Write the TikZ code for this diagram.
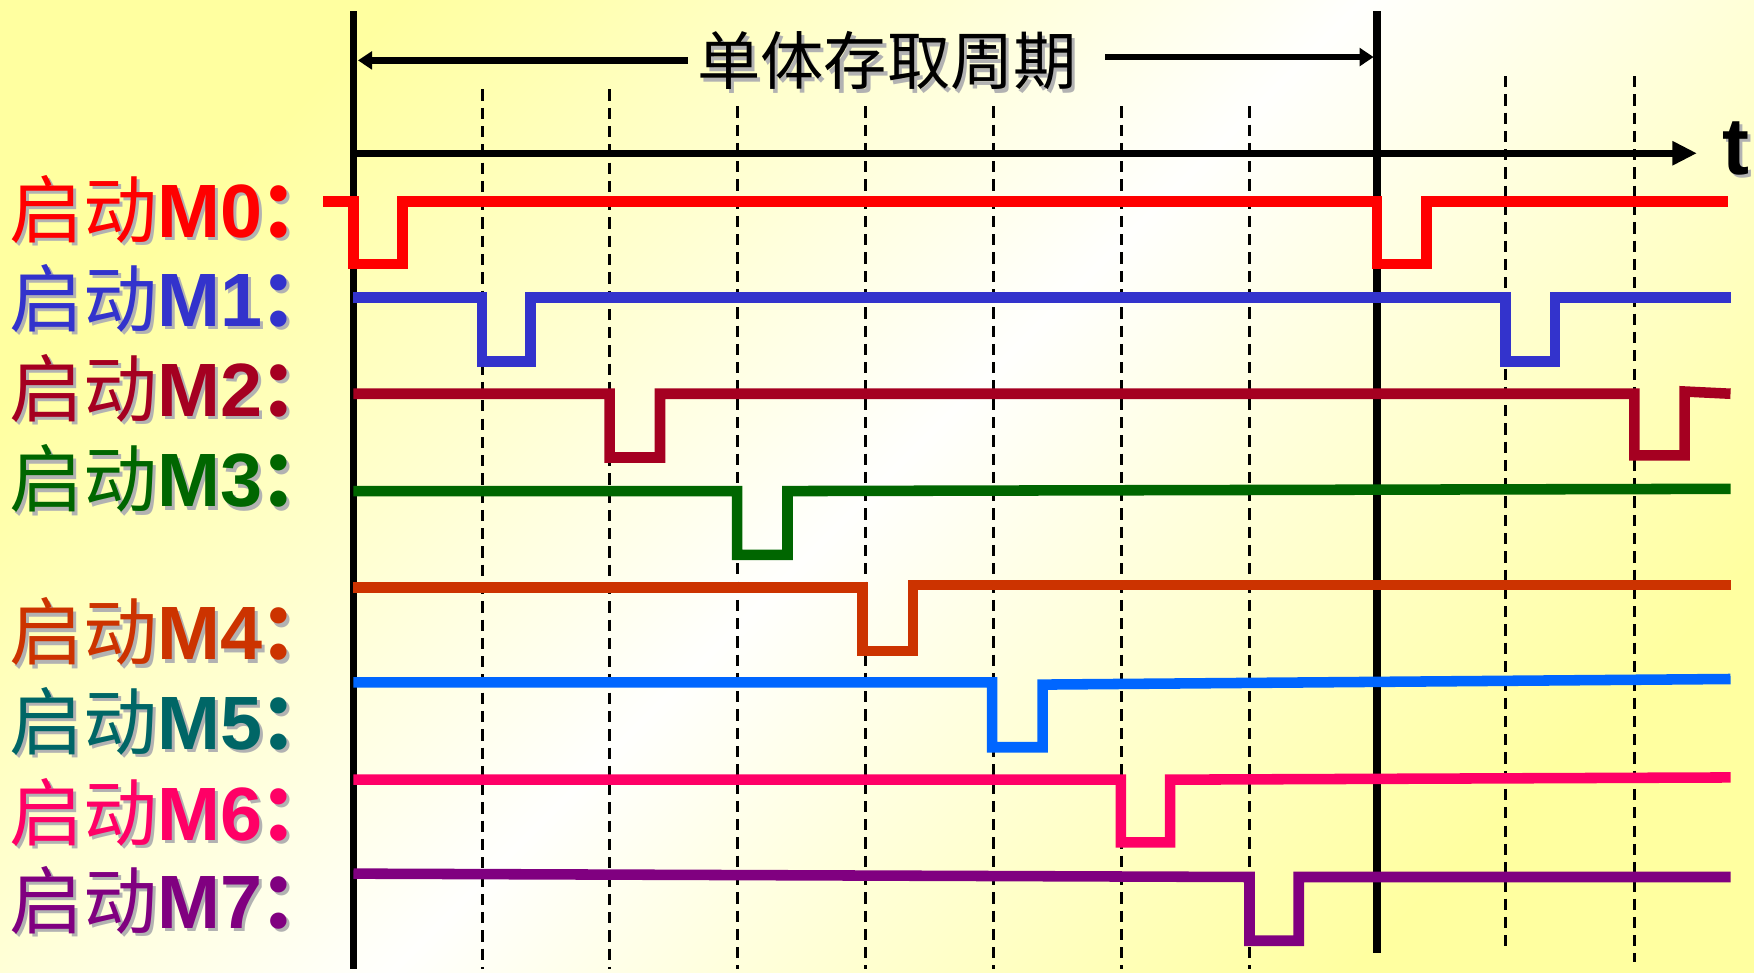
\documentclass[tikz,border=0pt]{standalone}
\usepackage{fontspec}
\setmainfont{Liberation Sans}
\newfontfamily\cjk{Noto Sans CJK SC}
\usetikzlibrary{arrows.meta}
\definecolor{bgyellow}{RGB}{255,255,160}
\definecolor{bgwhite}{RGB}{255,255,253}
\definecolor{shadowgray}{RGB}{178,178,178}
\definecolor{cM0}{RGB}{255,0,0}
\definecolor{cM1}{RGB}{51,51,204}
\definecolor{cM2}{RGB}{165,0,33}
\definecolor{cM3}{RGB}{0,102,0}
\definecolor{cM4}{RGB}{204,51,0}
\definecolor{cM5}{RGB}{0,102,255}
\definecolor{cM5t}{RGB}{0,102,102}
\definecolor{cM6}{RGB}{255,0,102}
\definecolor{cM7}{RGB}{128,0,128}
\newcommand\labtext[1]{{\fontsize{21}{21}\selectfont\cjk 启动}{\fontsize{21.5}{21.5}\selectfont\bfseries #1}\kern-0.9pt{\fontsize{22}{22}\selectfont\cjk\bfseries ：}}
\newcommand\shadowed[1]{{\color{shadowgray}\rlap{\kern0.95pt\raisebox{-0.95pt}{#1}}}#1}
\newcommand\mlabel[4]{%
  \node[lbl, text=#2] (#1) at (8,#3) {\shadowed{\labtext{#4}}};}
\begin{document}
\begin{tikzpicture}[x=0.011186cm,y=-0.011186cm,
  sigline/.style={line width=3pt, line join=miter, line cap=butt},
  guide/.style={line width=0.85pt, dash pattern=on 3.2pt off 2pt},
  bar/.style={line width=2.2pt},
  lbl/.style={anchor=base west, inner sep=0pt},
  arr/.style={line width=1.9pt},
]
\shade[top color=bgyellow, bottom color=bgyellow, middle color=bgwhite, shading angle=45] (0,0) rectangle (1568,869);
\useasboundingbox (0,0) rectangle (1568,869);

% dashed guides
\foreach \x in {431,545} \draw[guide] (\x,80) -- (\x,866);
\foreach \x in {659,774,888,1003,1117} \draw[guide] (\x,95) -- (\x,866);
\draw[guide] (1346,68) -- (1346,852);
\draw[guide] (1461,68) -- (1461,860);

% vertical bars
\draw[bar] (316,10) -- (316,866);
\draw[bar] (1231,10) -- (1231,852);

% title and period arrow
\node[font=\cjk\fontsize{18}{18}\selectfont] (title) at (793,56) {\shadowed{单体存取周期}};
\coordinate (pl) at (615,54);
\coordinate (pr) at (988,51);
\draw[arr, -{Triangle[length=4pt,width=5pt]}] (pl) -- (320,54);
\draw[arr, -{Triangle[length=4pt,width=5pt]}] (pr) -- (1228,51);

% time axis
\draw[arr, line width=2pt, -{Triangle[length=7pt,width=6.5pt]}] (316,137) -- (1517,137);
\node[font=\fontsize{23}{23}\selectfont\bfseries] (t) at (1552,134) {\shadowed{t}};

% signals
\draw[sigline, cM0] (289,180) -- (316,180) -- (316,236) -- (360,236) -- (360,180) -- (1231,180) -- (1231,236) -- (1275,236) -- (1275,180) -- (1545,180);
\draw[sigline, cM1] (316,266) -- (431,266) -- (431,323) -- (474,323) -- (474,266) -- (1346,266) -- (1346,323) -- (1390,323) -- (1390,266) -- (1547,266);
\draw[sigline, cM2] (316,352) -- (545,352) -- (545,409) -- (590,409) -- (590,352) -- (1461,352) -- (1461,407) -- (1506,407) -- (1506,350) -- (1547,352);
\draw[sigline, cM3] (316,439) -- (659,439) -- (659,496) -- (704,496) -- (704,439) -- (1547,437);
\draw[sigline, cM4] (316,525) -- (771,525) -- (771,582) -- (816,582) -- (816,523) -- (1547,523);
\draw[sigline, cM5] (316,610) -- (887,610) -- (887,668) -- (932,668) -- (932,612) -- (1547,607);
\draw[sigline, cM6] (316,697) -- (1002,697) -- (1002,753) -- (1046,753) -- (1046,697) -- (1547,695);
\draw[sigline, cM7] (316,781) -- (1117,784) -- (1117,841) -- (1161,841) -- (1161,784) -- (1547,784);

% labels
\mlabel{l0}{cM0}{212}{M0}
\mlabel{l1}{cM1}{292}{M1}
\mlabel{l2}{cM2}{372}{M2}
\mlabel{l3}{cM3}{453}{M3}
\mlabel{l4}{cM4}{590}{M4}
\mlabel{l5}{cM5t}{670}{M5}
\mlabel{l6}{cM6}{751}{M6}
\mlabel{l7}{cM7}{830}{M7}
\end{tikzpicture}
\end{document}
